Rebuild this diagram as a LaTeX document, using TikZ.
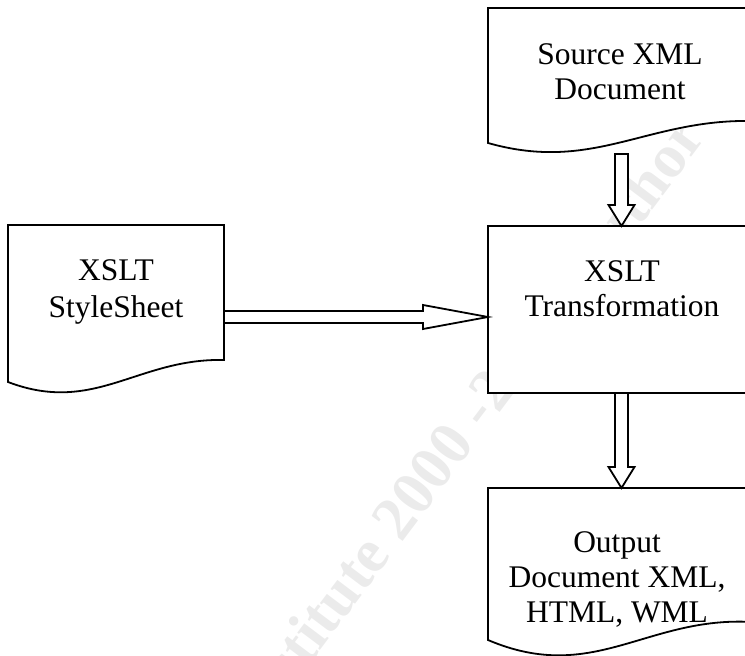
\documentclass[tikz,border=0pt]{standalone}
\usepackage{fontspec}
\setmainfont{Liberation Serif}
\usetikzlibrary{calc}

% outline of a flowchart "document" shape laid over a named box node:
% #1 node, #2 dip of the wave below the left corner, #3 rise of the right corner
\newcommand\docoutline[3]{%
  \draw[doc] (#1.north west) -- (#1.south west)
    .. controls ($(#1.south west)!0.4!(#1.south east)+(0,-#2)$)
           and ($(#1.south west)!0.6!(#1.south east)+(0,24)$)
    .. ($(#1.south east)+(0,#3)$) -- (#1.north east) -- cycle;}

\begin{document}
\begin{tikzpicture}[x=1pt,y=1pt,
  area/.style={inner sep=0pt, outer sep=0pt, anchor=north west},
  doc/.style={draw=black, fill=white, line width=1.8pt, line join=miter},
  procbox/.style={area, draw=black, fill=white, line width=1.8pt},
  blockarrow/.style={draw=black, fill=white, line width=1.8pt, line join=miter},
  lbl/.style={font=\fontsize{31.5}{35}\selectfont, anchor=base, inner sep=0pt},
  wmark/.style={font=\fontsize{62}{62}\selectfont\bfseries, text=black!8,
                inner sep=0pt, rotate=53}]
\useasboundingbox (0,0) rectangle (745,656);
\clip (0,0) rectangle (745,656);

% faint diagonal watermark
\coordinate (wm) at (498,241);
\node[wmark, anchor=base east] (wmA) at (wm) {© SANS Institute 2000 -\ };
\node[wmark, anchor=base west] (wmB) at (wm) {2002, Author retains full rights.};

% boxes
\node[area, minimum width=264pt, minimum height=135pt] (src) at (488,648) {};
\docoutline{src}{30}{22}
\node[area, minimum width=216pt, minimum height=157pt] (ss) at (8,431) {};
\docoutline{ss}{33}{22}
\node[procbox, minimum width=268pt, minimum height=167pt] (xf) at (488,430) {};
\node[area, minimum width=264pt, minimum height=152pt] (out) at (488,168) {};
\docoutline{out}{45}{18}

% labels
\node[lbl] (src1) at (620,591) {Source XML};
\node[lbl] (src2) at (620,556) {Document};
\node[lbl] (ss1) at (116,375) {XSLT};
\node[lbl] (ss2) at (116,338) {StyleSheet};
\node[lbl] (xf1) at (622,374) {XSLT};
\node[lbl] (xf2) at (622,339) {Transformation};
\node[lbl] (out1) at (617,103) {Output};
\node[lbl] (out2) at (617,68) {Document XML,};
\node[lbl] (out3) at (617,33) {HTML, WML};

% block arrows
\coordinate (a1s) at (621.5,502);
\coordinate (a1t) at (a1s |- xf.north);
\draw[blockarrow] ($(a1s)+(-6.5,0)$) -- ($(a1t)+(-6.5,21)$) -- ($(a1t)+(-13,21)$)
  -- (a1t) -- ($(a1t)+(13,21)$) -- ($(a1t)+(6.5,21)$) -- ($(a1s)+(6.5,0)$) -- cycle;

\coordinate (a2s) at (ss.north east |- 0,339);
\coordinate (a2t) at (xf.west |- a2s);
\draw[blockarrow] ($(a2s)+(0,6)$) -- ($(a2t)+(-65,6)$) -- ($(a2t)+(-65,12)$)
  -- (a2t) -- ($(a2t)+(-65,-12)$) -- ($(a2t)+(-65,-6)$) -- ($(a2s)+(0,-6)$) -- cycle;

\coordinate (a3s) at (621.5,0 |- xf.south);
\coordinate (a3t) at (a3s |- out.north);
\draw[blockarrow] ($(a3s)+(-6.5,0)$) -- ($(a3t)+(-6.5,21)$) -- ($(a3t)+(-13,21)$)
  -- (a3t) -- ($(a3t)+(13,21)$) -- ($(a3t)+(6.5,21)$) -- ($(a3s)+(6.5,0)$) -- cycle;
\end{tikzpicture}
\end{document}
